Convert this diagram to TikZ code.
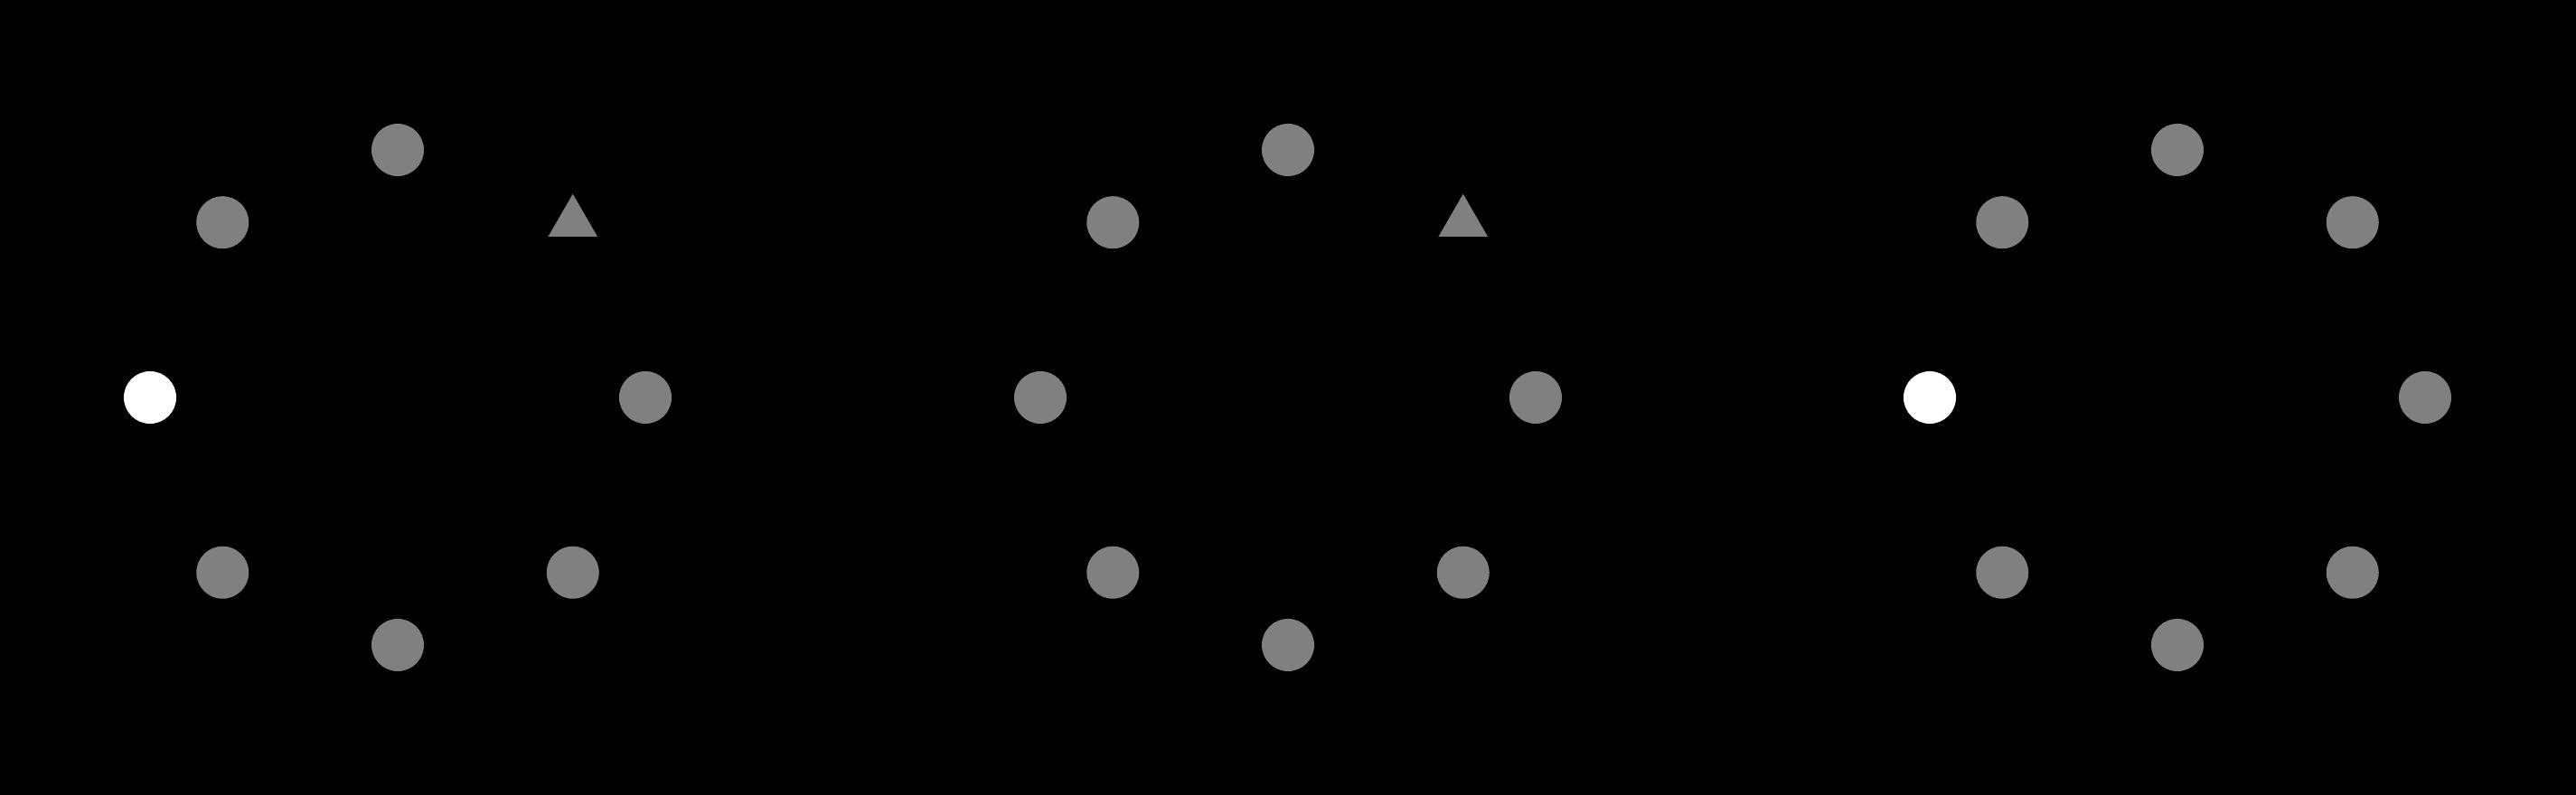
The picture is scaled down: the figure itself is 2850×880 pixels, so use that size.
\documentclass[tikz,border=0pt]{standalone}
\usetikzlibrary{shapes.geometric, calc}
\definecolor{DotGray}{HTML}{808080}
\tikzset{
  gdot/.style={circle, fill=DotGray, minimum size=0.58cm, inner sep=0pt},
  wdot/.style={circle, fill=white, minimum size=0.58cm, inner sep=0pt},
  gtri/.style={regular polygon, regular polygon sides=3, fill=DotGray,
    minimum size=0.63cm, inner sep=0pt},
}

\begin{document}
\begin{tikzpicture}[x=0.01cm, y=0.01cm]
    \fill[black] (0,0) rectangle (2850,880);
    % left ring
    \coordinate (c1) at (440,440);
    \node[wdot] (a180) at ($(c1)+(180:274)$) {};
    \node[gtri] (a45) at ($(c1)+(45:274)$) {};
    \foreach \ang in {0,90,135,225,270,315}
      \node[gdot] (a\ang) at ($(c1)+(\ang:274)$) {};
    % middle ring
    \coordinate (c2) at (1425,440);
    \node[gtri] (b45) at ($(c2)+(45:274)$) {};
    \foreach \ang in {0,90,135,180,225,270,315}
      \node[gdot] (b\ang) at ($(c2)+(\ang:274)$) {};
    % right ring
    \coordinate (c3) at (2409,440);
    \node[wdot] (r180) at ($(c3)+(180:274)$) {};
    \foreach \ang in {0,45,90,135,225,270,315}
      \node[gdot] (r\ang) at ($(c3)+(\ang:274)$) {};
\end{tikzpicture}
\end{document}
